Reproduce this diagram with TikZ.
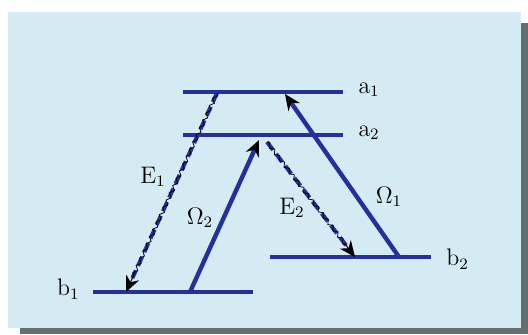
\documentclass[tikz,border=0pt]{standalone}
\usepackage{tikz}
\usetikzlibrary{arrows.meta, calc, decorations.pathmorphing}

\definecolor{panelblue}{RGB}{213,235,243}
\definecolor{shadowgray}{RGB}{100,110,114}
\definecolor{levelblue}{RGB}{36,48,158}

\begin{document}
\begin{tikzpicture}[
    x=0.5bp, y=-0.5bp,
    level/.style = {draw=levelblue, line width=2.2bp},
    pump/.style = {draw=levelblue, line width=2.2bp, -{Stealth[length=8bp, width=7bp, black]}},
    probe/.style = {draw=levelblue, line width=2bp, dash pattern=on 5bp off 2.5bp},
    wiggle/.style = {draw=black, line width=0.4bp, decorate, decoration={snake, amplitude=0.9bp, segment length=4bp}},
    tip/.style = {-{Stealth[length=8bp, width=7bp, black]}, draw=black, line width=0.5bp},
    lbl/.style = {font=\fontsize{11.5}{13}\selectfont, inner sep=1pt}
]
\useasboundingbox (0,0) rectangle (528,334);

% panel with shadow
\fill[shadowgray] (20,23) rectangle (528,334);
\fill[panelblue] (8,12) rectangle (521,328);

% levels (y in px, downwards)
\coordinate (a1L) at (183,92);  \coordinate (a1R) at (343,92);
\coordinate (a2L) at (183,135); \coordinate (a2R) at (343,135);
\coordinate (b1L) at (93,292);  \coordinate (b1R) at (253,292);
\coordinate (b2L) at (270,257); \coordinate (b2R) at (431,257);

\draw[level] (a1L) -- (a1R);
\draw[level] (a2L) -- (a2R);
\draw[level] (b1L) -- (b1R);
\draw[level] (b2L) -- (b2R);

\node (a1) [lbl, anchor=west] at (356,90) {$\mathrm{a}_1$};
\node (a2) [lbl, anchor=west] at (356,133) {$\mathrm{a}_2$};
\node (b1) [lbl, anchor=east] at (82,289) {$\mathrm{b}_1$};
\node (b2) [lbl, anchor=west] at (444,259) {$\mathrm{b}_2$};

% transition end points
\coordinate (e1s) at (217,93);  \coordinate (e1t) at (126,292);
\coordinate (o2s) at (190,292); \coordinate (o2t) at (259,140);
\coordinate (e2s) at (267,142); \coordinate (e2t) at (355,257);
\coordinate (o1s) at (399,257); \coordinate (o1t) at (285,94);

% couplings Omega (solid)
\draw[pump] (o2s) -- (o2t);
\draw[pump] (o1s) -- (o1t);

% fields E (blue with black wiggle)
\draw[probe] (e1s) -- ($(e1s)!0.93!(e1t)$);
\draw[wiggle] (e1s) -- ($(e1s)!0.93!(e1t)$);
\draw[tip] ($(e1s)!0.9!(e1t)$) -- (e1t);
\draw[probe] (e2s) -- ($(e2s)!0.9!(e2t)$);
\draw[wiggle] (e2s) -- ($(e2s)!0.9!(e2t)$);
\draw[tip] ($(e2s)!0.88!(e2t)$) -- (e2t);

% labels
\node (E1) [lbl] at (153,177) {$\mathrm{E}_1$};
\node (O2) [lbl] at (200,218) {$\Omega_2$};
\node (E2) [lbl] at (292,208) {$\mathrm{E}_2$};
\node (O1) [lbl] at (389,197) {$\Omega_1$};

\end{tikzpicture}
\end{document}
